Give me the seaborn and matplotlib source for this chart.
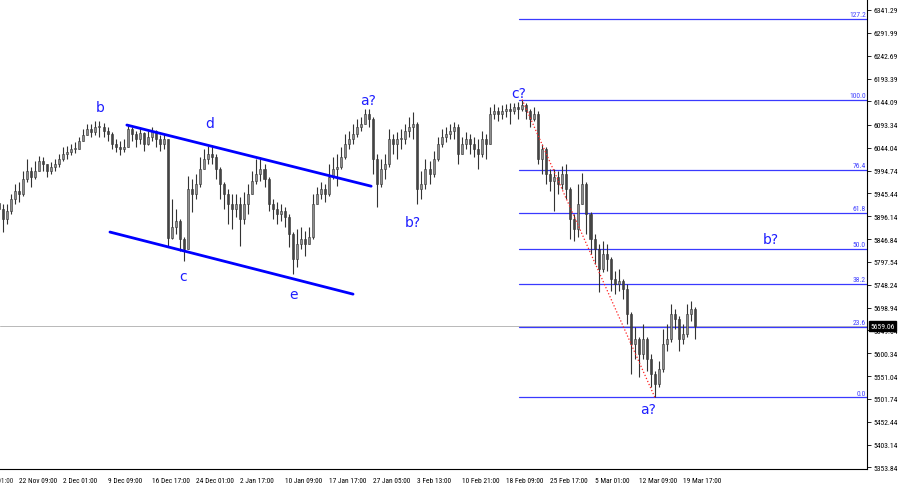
import numpy as np
import pandas as pd
import matplotlib
matplotlib.use("Agg")
import matplotlib.pyplot as plt
from matplotlib import font_manager
import seaborn as sns

# H4 bars (open = previous close)
first_open = 5925
close = [
    5912, 5890, 5908, 5933, 5951, 5944, 5977, 5994, 5981, 5994,
    6015, 6009, 5994, 6003, 6009, 6020, 6030, 6035, 6041, 6041,
    6058, 6071, 6084, 6078, 6089, 6089, 6080, 6074, 6052, 6046,
    6041, 6046, 6084, 6074, 6063, 6076, 6052, 6067, 6080, 6063,
    6052, 6063, 5850, 5873, 5886, 5847, 5825, 5955, 5944, 5966,
    5998, 6020, 6030, 6024, 5998, 5966, 5944, 5923, 5912, 5923,
    5890, 5923, 5944, 5972, 5987, 5998, 5977, 5923, 5912, 5901,
    5908, 5895, 5858, 5804, 5836, 5847, 5836, 5851, 5923, 5944,
    5955, 5944, 5981, 5998, 6003, 6024, 6052, 6063, 6074, 6089,
    6095, 6117, 6106, 6020, 5966, 5998, 6009, 6063, 6052, 6063,
    6063, 6080, 6089, 6095, 5955, 5966, 5998, 5987, 6020, 6052,
    6067, 6074, 6080, 6089, 6030, 6052, 6063, 6052, 6041, 6030,
    6063, 6052, 6117, 6123, 6117, 6123, 6128, 6123, 6132, 6128,
    6136, 6123, 6106, 6117, 6020, 6041, 5987, 5972, 5981, 5966,
    5987, 5955, 5890, 5869, 5923, 5966, 5901, 5847, 5825, 5782,
    5815, 5804, 5761, 5750, 5756, 5739, 5685, 5620, 5631, 5599,
    5631, 5588, 5556, 5534, 5567, 5620, 5631, 5685, 5674, 5631,
    5642, 5685, 5696, 5659.06,
]
high = [
    5933, 5923, 5923, 5944, 5966, 5970, 5994, 6020, 6003, 6015,
    6026, 6024, 6009, 6013, 6020, 6030, 6046, 6048, 6052, 6056,
    6067, 6084, 6095, 6095, 6102, 6102, 6097, 6089, 6078, 6063,
    6058, 6063, 6093, 6089, 6080, 6089, 6078, 6080, 6089, 6082,
    6071, 6074, 6063, 5933, 5912, 5890, 5851, 5983, 5977, 5987,
    6024, 6041, 6048, 6050, 6030, 6003, 5970, 5955, 5944, 5944,
    5938, 5949, 5966, 5994, 6020, 6024, 6009, 5981, 5933, 5927,
    5923, 5916, 5901, 5862, 5869, 5873, 5864, 5873, 5944, 5959,
    5970, 5966, 6009, 6024, 6030, 6046, 6074, 6080, 6095, 6106,
    6110, 6128, 6128, 6110, 6030, 6020, 6030, 6084, 6074, 6078,
    6084, 6095, 6110, 6121, 6099, 5994, 6020, 6015, 6037, 6067,
    6084, 6089, 6095, 6099, 6095, 6067, 6078, 6074, 6067, 6063,
    6080, 6074, 6132, 6138, 6132, 6136, 6138, 6140, 6140, 6143,
    6148, 6140, 6128, 6132, 6123, 6052, 6046, 5998, 5998, 5994,
    6005, 6009, 5960, 5901, 5966, 5989, 5970, 5905, 5858, 5836,
    5843, 5836, 5808, 5778, 5782, 5761, 5750, 5690, 5657, 5636,
    5663, 5636, 5599, 5562, 5584, 5653, 5663, 5707, 5696, 5680,
    5663, 5707, 5713, 5700,
]
low = [
    5895, 5862, 5880, 5901, 5923, 5927, 5940, 5970, 5959, 5977,
    5994, 5994, 5981, 5987, 5994, 6003, 6015, 6020, 6028, 6033,
    6041, 6058, 6071, 6067, 6071, 6067, 6067, 6058, 6041, 6035,
    6028, 6035, 6046, 6058, 6046, 6052, 6037, 6050, 6058, 6046,
    6037, 6041, 5832, 5847, 5858, 5821, 5800, 5825, 5905, 5933,
    5960, 5998, 6009, 6009, 5977, 5933, 5912, 5880, 5869, 5895,
    5832, 5880, 5901, 5944, 5966, 5972, 5959, 5908, 5890, 5880,
    5886, 5873, 5830, 5771, 5787, 5825, 5810, 5836, 5847, 5923,
    5933, 5927, 5940, 5977, 5962, 5998, 6020, 6041, 6052, 6067,
    6080, 6095, 6089, 5987, 5916, 5960, 5977, 6003, 6030, 6020,
    6041, 6052, 6067, 6063, 5923, 5933, 5955, 5966, 5980, 6015,
    6046, 6056, 6063, 6063, 6009, 6030, 6041, 6030, 6024, 5998,
    6024, 6020, 6052, 6106, 6102, 6106, 6110, 6095, 6117, 6106,
    6123, 6106, 6089, 6102, 6009, 5987, 5966, 5951, 5908, 5944,
    5955, 5933, 5847, 5843, 5851, 5923, 5858, 5815, 5793, 5733,
    5775, 5778, 5735, 5728, 5735, 5718, 5663, 5556, 5588, 5549,
    5588, 5562, 5528, 5505, 5528, 5560, 5605, 5625, 5653, 5605,
    5620, 5636, 5670, 5631,
]

# x axis labels (bar index of each tick)
tick_bars = [5, 16, 27, 38, 49, 60, 71, 82, 93, 104, 115, 126, 137, 148, 159, 170]
tick_labels = ["22 Nov 09:00", "2 Dec 01:00", "9 Dec 09:00", "16 Dec 17:00",
               "24 Dec 01:00", "2 Jan 17:00", "10 Jan 09:00", "17 Jan 17:00",
               "27 Jan 05:00", "3 Feb 13:00", "10 Feb 21:00", "18 Feb 09:00",
               "25 Feb 17:00", "5 Mar 01:00", "12 Mar 09:00", "19 Mar 17:00"]
price_ticks = [6341.29, 6291.99, 6242.69, 6193.39, 6144.09, 6093.34, 6044.04,
               5994.74, 5945.44, 5896.14, 5846.84, 5797.54, 5748.24, 5698.94,
               5649.64, 5600.34, 5551.04, 5501.74, 5452.44, 5403.14, 5353.84]

# fibo grid from the c? top (bar 130) to the a? low (bar 163)
fib_start, fib_end = 130, 163
fib_high, fib_low = 6148, 5505
fib_ratios = [127.2, 100.0, 76.4, 61.8, 50.0, 38.2, 23.6, 0.0]

# triangle channel (bar, price)
channel_upper = [(31.8, 6093), (92.5, 5961)]
channel_lower = [(27.6, 5862), (88.0, 5728)]

# wave marks (text, bar, price)
wave_labels = [("b", 25.1, 6132), ("d", 52.5, 6097), ("c", 45.8, 5767),
               ("e", 73.1, 5728), ("a?", 91.7, 6147), ("b?", 102.9, 5884),
               ("c?", 129.2, 6162), ("a?", 161.3, 5480), ("b?", 191.9, 5847)]

df = pd.DataFrame({"high": high, "low": low, "close": close})
df["open"] = [first_open] + close[:-1]
df["bar"] = np.arange(len(df))
df["up"] = df["close"] >= df["open"]

sns.set_theme(style="white")
plt.rcParams["font.family"] = ["DejaVu Sans"]

# small terminal-like font for the axes
installed = {f.name for f in font_manager.fontManager.ttflist}
narrow = next((n for n in ["Liberation Sans Narrow", "DejaVu Sans Condensed",
                           "Roboto Condensed"] if n in installed), None)
axis_font = narrow or "Liberation Sans"
x_size = 5.3 if narrow else 4.6
y_size = 5.4

fig = plt.figure(figsize=(9, 4.85), dpi=100)
ax = fig.add_axes([0, 15 / 485, 867 / 900, 470 / 485])

blue = "#1e1eff"

# current price line
last = close[-1]
ax.axhline(last, color="#b8b8b8", lw=0.7, zorder=1)

# candles
ax.vlines(df["bar"], df["low"], df["high"], color="#333333", lw=0.8, zorder=3)
body_bottom = df[["open", "close"]].min(axis=1)
body_h = (df["close"] - df["open"]).abs().clip(lower=1.5)
ax.bar(df["bar"], body_h, bottom=body_bottom, width=0.5,
       color=np.where(df["up"], "#8e8e8e", "#444444"),
       edgecolor="#333333", linewidth=0.4, zorder=4)

# channel lines
for pts in (channel_upper, channel_lower):
    xs, ys = zip(*pts)
    sns.lineplot(x=list(xs), y=list(ys), ax=ax, color="#0000ff", lw=2, zorder=5)

# fibo levels
x_right = 215.7
for r in fib_ratios:
    lvl = fib_low + r / 100 * (fib_high - fib_low)
    ax.plot([fib_start - 0.8, x_right], [lvl, lvl], color="#3a3aff", lw=0.9, zorder=2)
    ax.text(x_right - 0.3, lvl + 2, f"{r:.1f}", color="#4040ff", fontsize=5.4,
            family=axis_font, ha="right", va="bottom", zorder=6)

# red dotted trend line
sns.lineplot(x=[fib_start, fib_end], y=[fib_high, fib_low], ax=ax,
             color="#ff2020", lw=0.9, linestyle=":", zorder=6)

for txt, bx, py in wave_labels:
    ax.text(bx, py, txt, color=blue, fontsize=10, ha="center", va="center", zorder=7)

ax.set_xlim(0.28, x_right)
ax.set_ylim(5350.6, 6365)

# axes styling like the terminal
for side in ("top", "left"):
    ax.spines[side].set_visible(False)
for side in ("right", "bottom"):
    ax.spines[side].set_color("black")
    ax.spines[side].set_linewidth(0.8)

ax.set_xticks(tick_bars)
ax.set_xticklabels(tick_labels, ha="left", family=axis_font, fontsize=x_size)
ax.yaxis.tick_right()
ax.set_yticks(price_ticks)
ax.set_yticklabels([f"{v:.2f}" for v in price_ticks], family=axis_font, fontsize=y_size)
ax.tick_params(axis="both", colors="black", length=3, width=0.6,
               direction="out", pad=1.5)
ax.tick_params(axis="x", pad=2.5)

# first, cut-off time label on the left edge
ax.annotate("14 Nov 01:00", xy=(-6, 0), xycoords=("data", "axes fraction"),
            xytext=(0, -5.5), textcoords="offset points", ha="left", va="top",
            fontsize=x_size, family=axis_font, annotation_clip=False)

# current price box
ax.annotate(f"{last:.2f}", xy=(1.0, last), xycoords=("axes fraction", "data"),
            xytext=(2.5, 0), textcoords="offset points", ha="left", va="center",
            fontsize=y_size, family=axis_font, color="white", annotation_clip=False,
            bbox=dict(boxstyle="square,pad=0.2", fc="black", ec="black"))

ax.set_xlabel("")
ax.set_ylabel("")
fig.savefig("out.png", dpi=100)
